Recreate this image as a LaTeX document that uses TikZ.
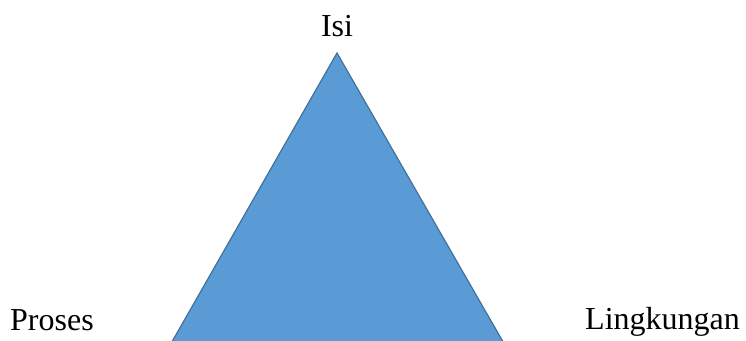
\documentclass[tikz,border=0pt]{standalone}
\usepackage{fontspec}
\setmainfont{Liberation Serif}
\definecolor{trifill}{HTML}{5B9BD5}
\definecolor{triedge}{HTML}{41719C}
\begin{document}
\begin{tikzpicture}[x=1pt,y=1pt,
  lbl/.style={inner sep=0pt,font=\fontsize{32}{37}\selectfont},
  tri/.style={fill=trifill,draw=triedge,line width=1.2pt,line join=miter}]
\useasboundingbox (0,0) rectangle (746,340);
\clip (0,0) rectangle (746,340);
\coordinate (apex) at (337,287);
\coordinate (bl) at (170.7,-4);
\coordinate (br) at (504.3,-4);
\draw[tri] (apex) -- (br) -- (bl) -- cycle;
\node[lbl,anchor=base] (isi) at (337,303) {Isi};
\node[lbl,anchor=base west] (proses) at (10,10) {Proses};
\node[lbl,anchor=base west] (lingkungan) at (585,11) {Lingkungan};
\end{tikzpicture}
\end{document}
